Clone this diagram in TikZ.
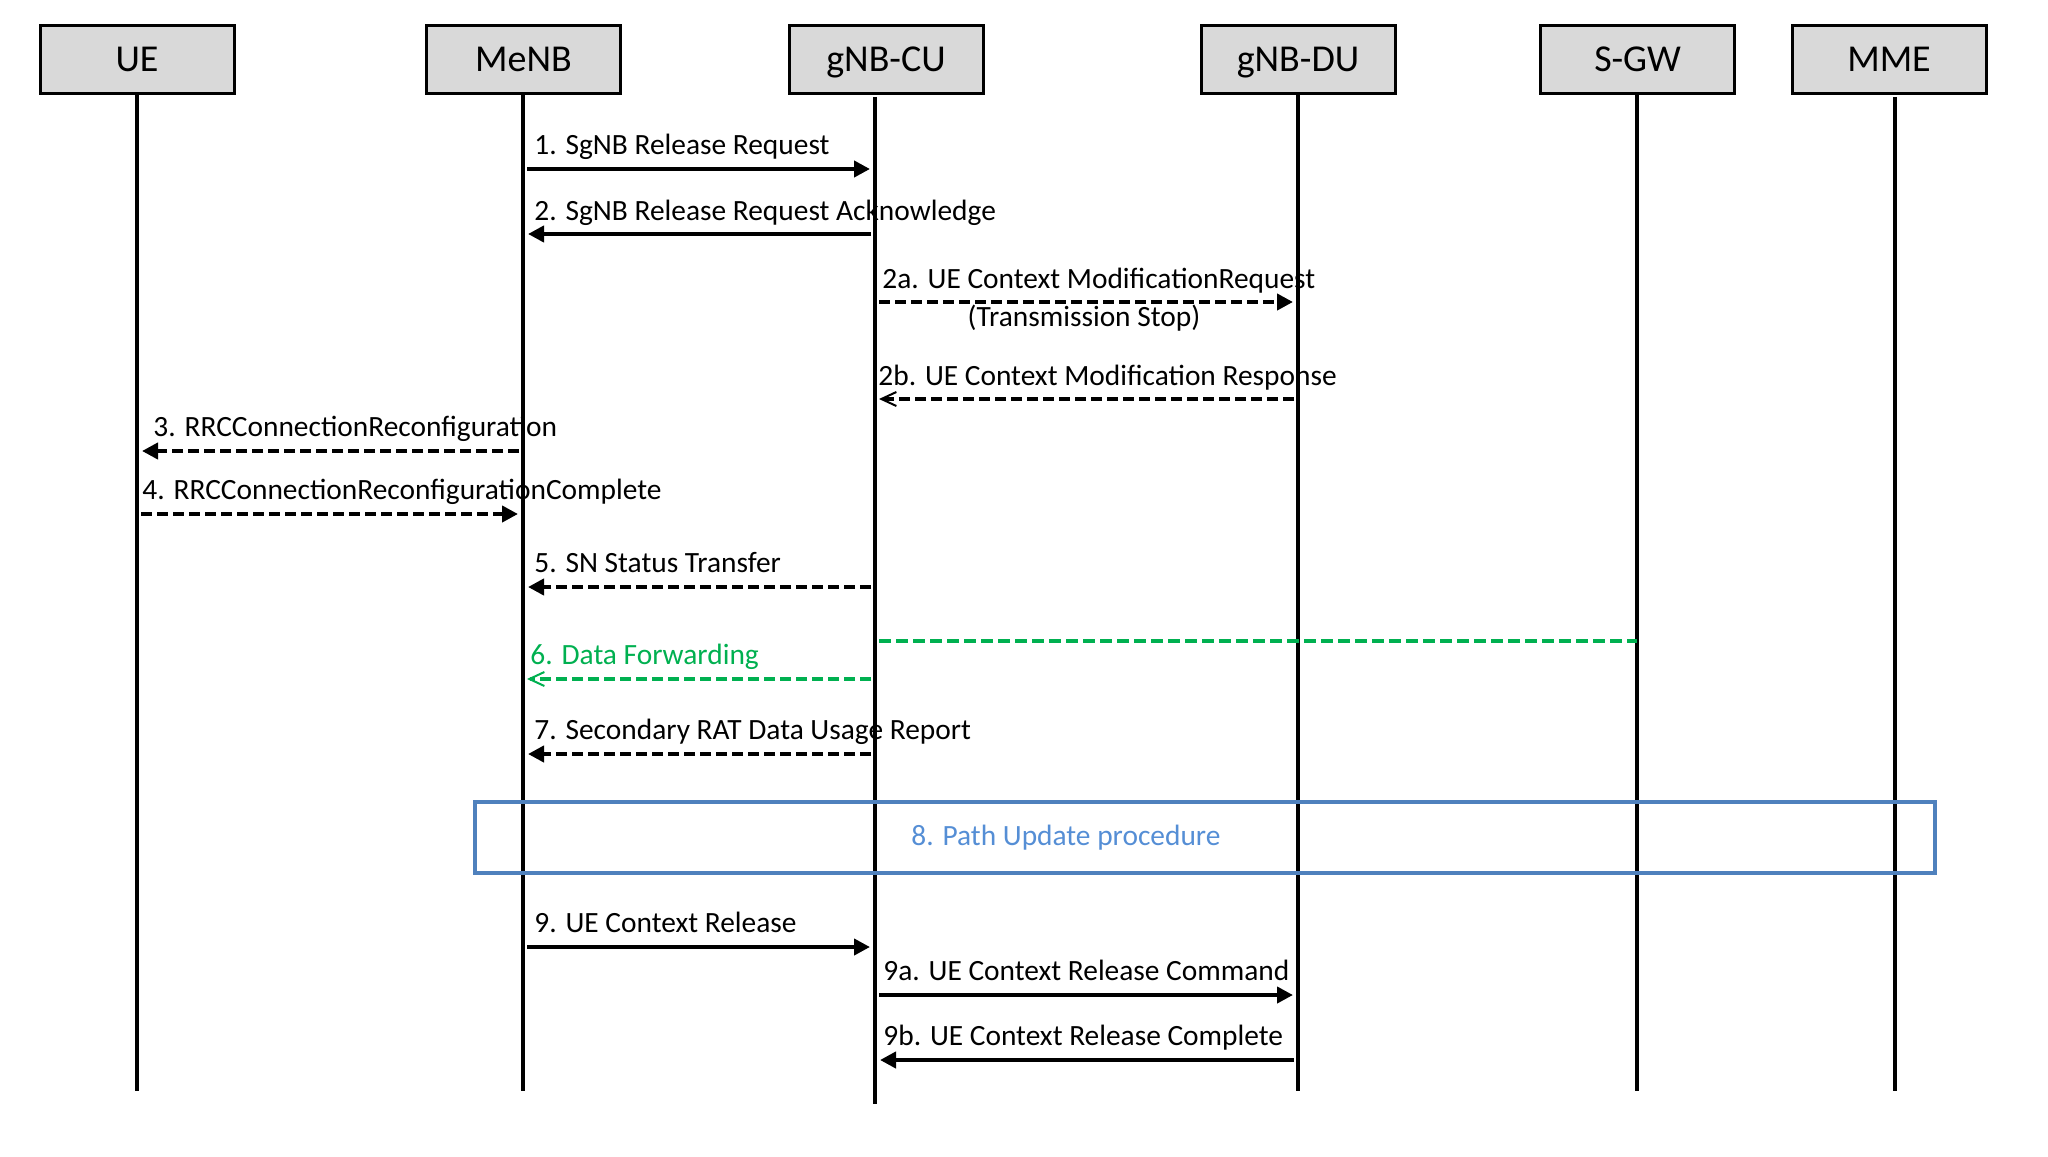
\documentclass[tikz,border=0pt]{standalone}
\usepackage{fontspec}
\setmainfont{Carlito}
\usetikzlibrary{arrows.meta}
\definecolor{boxgray}{HTML}{D9D9D9}
\definecolor{fwdgreen}{HTML}{00B050}
\definecolor{procblue}{HTML}{4F81BD}
\definecolor{proctext}{HTML}{558ED5}

\begin{document}
\begin{tikzpicture}[x=0.5pt, y=-0.5pt,
  entity/.style={draw=black, line width=1.5pt, fill=boxgray, minimum width=97pt, minimum height=34pt, inner sep=0pt, text height=15pt, text depth=3pt, font=\fontsize{19}{21}\selectfont},
  life/.style={black, line width=1.75pt},
  lbl/.style={anchor=base west, inner sep=0pt, font=\fontsize{14.7}{17}\selectfont},
  msg/.style={black, line width=2pt, -{Triangle[length=8pt, width=8pt]}, shorten >=2.5pt, shorten <=2pt},
  dmsg/.style={msg, dash pattern=on 5.5pt off 2.5pt},
  omsg/.style={black, line width=2pt, dash pattern=on 5.5pt off 2.5pt, -{Straight Barb[length=7.5pt, width=7pt, line width=1pt]}, shorten >=2pt, shorten <=2pt}]
  \useasboundingbox (0,0) rectangle (2048,1156);
  \node[entity] (ue) at (137,60) {UE};
  \node[entity] (menb) at (523.5,60) {MeNB};
  \node[entity] (cu) at (886,60) {gNB-CU};
  \node[entity] (du) at (1298,60) {gNB-DU};
  \node[entity] (sgw) at (1637.5,60) {S-GW};
  \node[entity] (mme) at (1889,60) {MME};
  % lifelines
  \foreach \n/\x in {ue/137, menb/523, cu/875, du/1298, sgw/1637, mme/1895}
    \coordinate (\n-l) at (\x,0);
  \draw[life] (ue.south -| ue-l) -- (ue-l |- 0,1091);
  \draw[life] (menb.south -| menb-l) -- (menb-l |- 0,1091);
  \draw[life] (cu-l |- 0,97) -- (cu-l |- 0,1104);
  \draw[life] (du.south -| du-l) -- (du-l |- 0,1091);
  \draw[life] (sgw.south -| sgw-l) -- (sgw-l |- 0,1091);
  \draw[life] (mme-l |- 0,97) -- (mme-l |- 0,1091);
  % messages
  \node[lbl] (m1) at (534,155) {1. SgNB Release Request};
  \draw[msg] (menb-l |- 0,169) -- (cu-l |- 0,169);
  \node[lbl] (m2) at (534,220) {2. SgNB Release Request Acknowledge};
  \draw[msg] (cu-l |- 0,234) -- (menb-l |- 0,234);
  \node[lbl] (m2a) at (882,288) {2a. UE Context ModificationRequest};
  \draw[dmsg] (cu-l |- 0,302) -- (du-l |- 0,302);
  \node[lbl, anchor=base] (m2a2) at (1084,326) {(Transmission Stop)};
  \node[lbl] (m2b) at (878,385) {2b. UE Context Modification Response};
  \draw[omsg] (du-l |- 0,399) -- (cu-l |- 0,399);
  \node[lbl] (m3) at (153,436) {3. RRCConnectionReconfiguration};
  \draw[dmsg] (menb-l |- 0,451) -- (ue-l |- 0,451);
  \node[lbl] (m4) at (142,499) {4. RRCConnectionReconfigurationComplete};
  \draw[dmsg] (ue-l |- 0,514) -- (menb-l |- 0,514);
  \node[lbl] (m5) at (534,572) {5. SN Status Transfer};
  \draw[dmsg] (cu-l |- 0,587) -- (menb-l |- 0,587);
  \draw[fwdgreen, line width=2pt, dash pattern=on 6pt off 2.5pt, shorten <=2pt] (cu-l |- 0,641) -- (sgw-l |- 0,641);
  \node[lbl, text=fwdgreen] (m6) at (530,664) {6. Data Forwarding};
  \draw[omsg, fwdgreen] (cu-l |- 0,679) -- (menb-l |- 0,679);
  \node[lbl] (m7) at (534,739) {7. Secondary RAT Data Usage Report};
  \draw[dmsg] (cu-l |- 0,754) -- (menb-l |- 0,754);
  % path update
  \draw[procblue, line width=2pt] (475,802) rectangle (1935,873);
  \node[lbl, text=proctext] (m8) at (911,845) {8. Path Update procedure};
  \node[lbl] (m9) at (534,932) {9. UE Context Release};
  \draw[msg] (menb-l |- 0,947) -- (cu-l |- 0,947);
  \node[lbl] (m9a) at (883,980) {9a. UE Context Release Command};
  \draw[msg] (cu-l |- 0,995) -- (du-l |- 0,995);
  \node[lbl] (m9b) at (883,1045) {9b. UE Context Release Complete};
  \draw[msg] (du-l |- 0,1060) -- (cu-l |- 0,1060);
\end{tikzpicture}
\end{document}
